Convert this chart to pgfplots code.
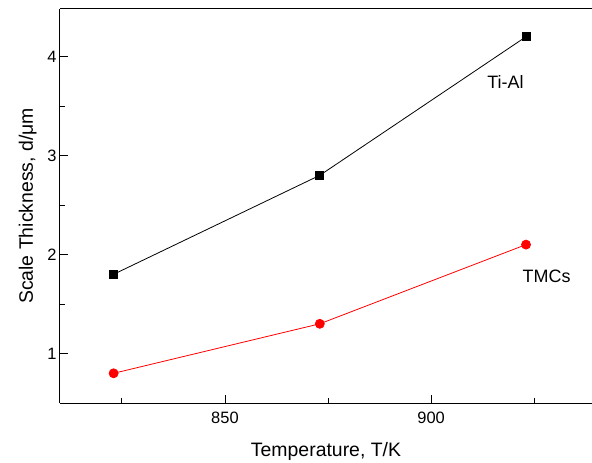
\documentclass[border=0pt]{standalone}
\usepackage{pgfplots}
\pgfplotsset{compat=1.18}
\usepackage{fontspec}
\setmainfont{Liberation Sans}
\begin{document}
\begin{tikzpicture}
\begin{axis}[
  name=ax, at={(0,0)}, anchor=south west,
  scale only axis, width=532bp, height=394bp,
  xmin=810, xmax=939, ymin=0.5, ymax=4.48,
  axis x line*=box, axis y line*=left,
  xtick={850,900}, minor xtick={825,875,925},
  ytick={1,2,3,4}, minor ytick={1.5,2.5,3.5},
  xtick pos=bottom, ytick pos=left,
  tick align=inside,
  major tick length=8bp, minor tick length=5bp,
  every tick/.style={black, line width=0.8bp},
  axis line style={line width=1bp, black},
  /pgf/number format/assume math mode=true,
  ticklabel style={font=\fontsize{16.5}{19}\selectfont, black},
  xticklabel style={yshift=-6bp},
  xlabel={Temperature, T/K},
  ylabel={Scale Thickness, d/μm},
  every axis x label/.style={at={(axis description cs:0.5,-0.137)}, anchor=base, font=\fontsize{19.5}{22}\selectfont},
  every axis y label/.style={at={(axis description cs:-0.0508,0.5)}, rotate=90, anchor=base, font=\fontsize{19.5}{22}\selectfont},
  clip=false,
]
\addplot[black, line width=0.8bp, mark=square*, mark size=4bp, mark options={fill=black, solid}] coordinates {(823,1.8) (873,2.8) (923,4.2)};
\addplot[red, line width=0.8bp, mark=*, mark size=4.5bp, mark options={fill=red, solid}] coordinates {(823,0.8) (873,1.3) (923,2.1)};
\node[font=\fontsize{18}{20}\selectfont] at (axis cs:918,3.74) {Ti-Al};
\node[font=\fontsize{18}{20}\selectfont] at (axis cs:928,1.78) {TMCs};
\end{axis}
\pgfresetboundingbox
\path ([xshift=-60bp,yshift=-60bp]ax.south west) rectangle ([yshift=9bp]ax.north east);
\end{tikzpicture}
\end{document}
